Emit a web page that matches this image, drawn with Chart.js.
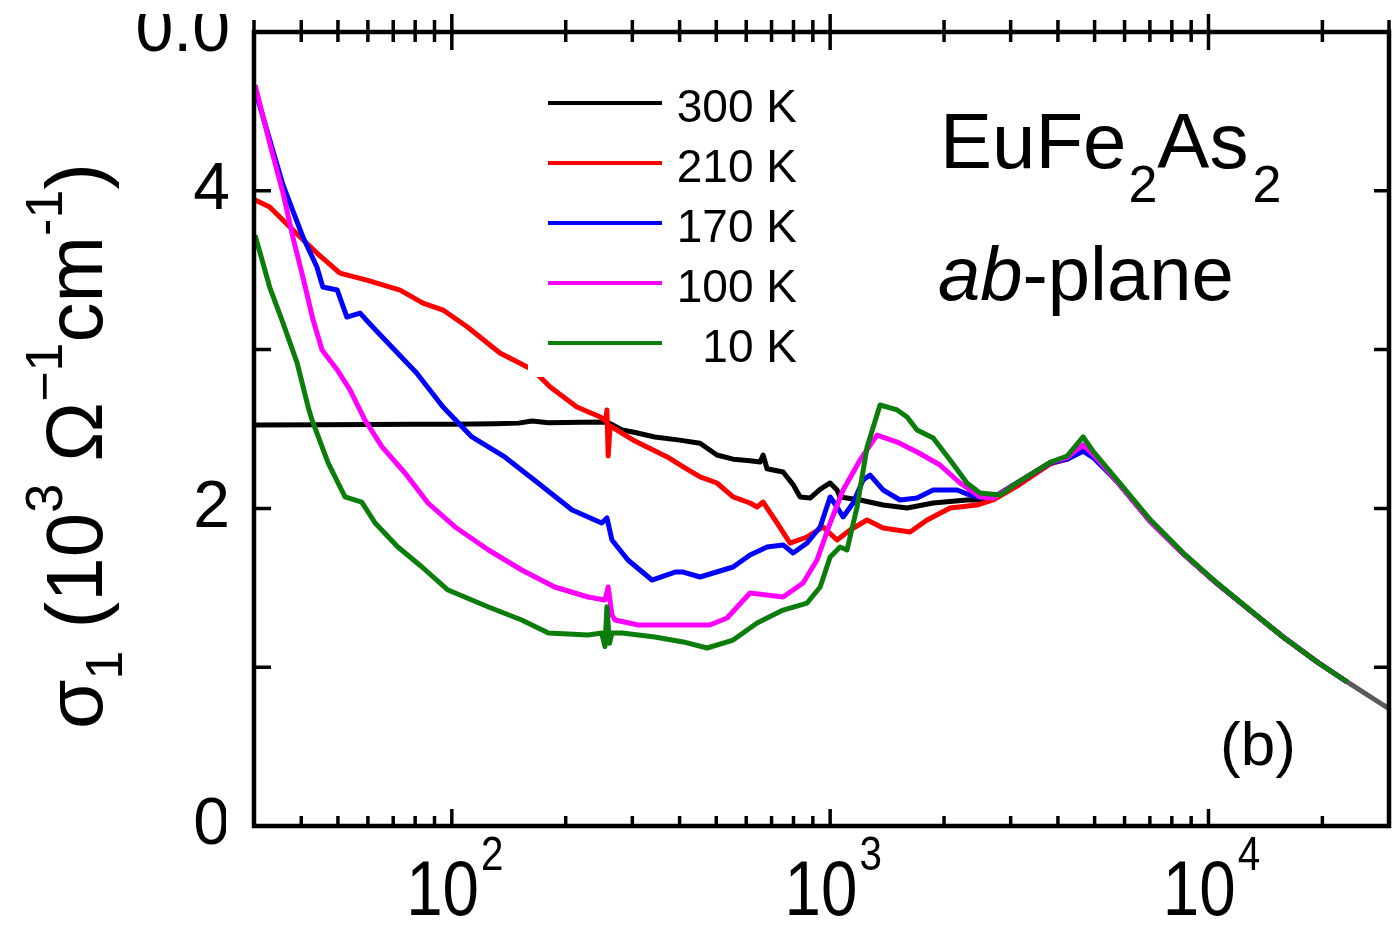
<!DOCTYPE html>
<html><head><meta charset="utf-8">
<script src="https://cdn.jsdelivr.net/npm/chart.js@4.4.1/dist/chart.umd.min.js"></script>
<style>html,body{margin:0;padding:0;background:#fff;} #wrap{width:1392px;height:929px;}</style>
</head><body><div id="wrap"><canvas id="c" width="1392" height="929"></canvas></div>
<script>
const FONT = '"Liberation Sans", Arial, Helvetica, sans-serif';

// ---- data (wavenumber in cm^-1, sigma_1 in 10^3 Ohm^-1 cm^-1) ----
const seriesLabels = ['300 K', '210 K', '170 K', '100 K', '10 K'];
const seriesColors = ['#000000', '#ff0000', '#0000ff', '#ff00ff', '#0a7d0a'];

const wn300 = [30.2, 45, 60, 80, 100, 130, 150, 163, 180, 220, 257, 282, 301, 344, 400, 453, 502, 554, 614, 653, 665, 681, 707, 751, 798, 833, 885, 940, 1000, 1043, 1062, 1200, 1380, 1597, 1872, 2299, 2537, 2763, 3119, 3815, 4229, 4663, 4955, 5733, 7010, 8570, 10540, 12880, 15750, 19380, 23260, 28950, 30030];
const s300 = [2.525, 2.526, 2.528, 2.53, 2.53, 2.533, 2.537, 2.55, 2.54, 2.542, 2.544, 2.494, 2.481, 2.45, 2.43, 2.41, 2.336, 2.31, 2.30, 2.292, 2.336, 2.25, 2.242, 2.229, 2.15, 2.072, 2.065, 2.12, 2.16, 2.116, 2.072, 2.053, 2.021, 2.003, 2.034, 2.053, 2.053, 2.084, 2.16, 2.286, 2.31, 2.38, 2.33, 2.17, 1.92, 1.715, 1.527, 1.358, 1.19, 1.033, 0.907, 0.762, 0.74];

const wn210 = [30.2, 33, 38, 44, 50.6, 59.6, 73, 83.9, 94.8, 110, 134, 164, 182, 214, 247, 255, 257, 259, 262, 301, 371, 409, 453, 502, 554, 614, 641, 665, 724, 783, 869, 958, 1043, 1129, 1252, 1380, 1626, 1804, 2075, 2445, 2695, 3119, 3815, 4229, 4663, 4955, 5733, 7010, 8570, 10540, 12880, 15750, 19380, 23260];
const s210 = [3.942, 3.898, 3.753, 3.608, 3.482, 3.438, 3.375, 3.293, 3.249, 3.142, 2.979, 2.872, 2.764, 2.639, 2.576, 2.55, 2.62, 2.33, 2.52, 2.431, 2.324, 2.261, 2.198, 2.16, 2.072, 2.034, 2.009, 2.04, 1.908, 1.782, 1.82, 1.883, 1.801, 1.864, 1.927, 1.877, 1.851, 1.927, 2.003, 2.021, 2.053, 2.14, 2.28, 2.31, 2.39, 2.335, 2.17, 1.92, 1.715, 1.527, 1.358, 1.19, 1.033, 0.907];

const wn170 = [30.2, 35.8, 40.4, 44, 45.6, 49.8, 52.8, 57.2, 61.8, 69.4, 80.7, 94.8, 113, 138, 169, 208, 249, 257, 265, 292, 338, 389, 409, 453, 554, 614, 681, 751, 798, 869, 941, 1000, 1043, 1082, 1150, 1222, 1275, 1380, 1530, 1697, 1872, 2165, 2343, 2537, 2763, 3119, 3815, 4229, 4663, 4955, 5733, 7010, 8570, 10540, 12880, 15750, 19380, 23260];
const s170 = [4.635, 4.036, 3.709, 3.52, 3.394, 3.375, 3.205, 3.23, 3.142, 3.016, 2.853, 2.639, 2.45, 2.324, 2.16, 1.99, 1.908, 1.94, 1.801, 1.675, 1.549, 1.599, 1.599, 1.568, 1.631, 1.707, 1.757, 1.77, 1.719, 1.782, 1.883, 2.072, 2.009, 1.946, 2.034, 2.179, 2.21, 2.116, 2.053, 2.065, 2.116, 2.116, 2.084, 2.065, 2.084, 2.16, 2.286, 2.31, 2.36, 2.32, 2.17, 1.92, 1.715, 1.527, 1.358, 1.19, 1.033, 0.907];

const wn100 = [30.2, 33, 35.8, 38, 40.4, 43, 45.4, 49.8, 53.8, 58.9, 65.4, 75.2, 86.5, 102, 125, 153, 187, 229, 254, 259, 265, 270, 311, 421, 481, 534, 614, 751, 848, 923, 1000, 1082, 1200, 1330, 1503, 1697, 1952, 2205, 2490, 2695, 3119, 3815, 4229, 4663, 4955, 5733, 7010, 8570, 10540, 12880, 15750, 19380, 23260];
const s100 = [4.666, 4.301, 3.986, 3.709, 3.457, 3.186, 2.997, 2.872, 2.746, 2.557, 2.387, 2.223, 2.034, 1.883, 1.738, 1.612, 1.505, 1.442, 1.423, 1.505, 1.329, 1.297, 1.266, 1.266, 1.266, 1.31, 1.467, 1.442, 1.53, 1.675, 1.908, 2.116, 2.305, 2.462, 2.418, 2.355, 2.273, 2.16, 2.072, 2.065, 2.16, 2.29, 2.32, 2.40, 2.34, 2.17, 1.92, 1.715, 1.527, 1.358, 1.19, 1.033, 0.907];

const wn10 = [30.2, 33, 35.8, 39, 41.7, 42.7, 47.1, 52.2, 57.8, 62.7, 72, 83.4, 97.7, 125, 153, 180, 229, 249, 254, 257, 261, 265, 282, 344, 409, 473, 554, 641, 751, 869, 941, 1000, 1062, 1108, 1178, 1252, 1355, 1503, 1597, 1697, 1872, 2075, 2299, 2490, 2813, 3119, 3815, 4229, 4663, 4955, 5733, 7010, 8570, 10540, 12880, 15750, 19380, 23260];
const s10 = [3.72, 3.394, 3.167, 2.916, 2.639, 2.557, 2.286, 2.072, 2.04, 1.908, 1.757, 1.631, 1.486, 1.379, 1.297, 1.215, 1.203, 1.215, 1.13, 1.38, 1.15, 1.215, 1.215, 1.19, 1.159, 1.121, 1.171, 1.278, 1.36, 1.404, 1.505, 1.694, 1.757, 1.738, 2.009, 2.387, 2.651, 2.62, 2.576, 2.494, 2.443, 2.305, 2.16, 2.097, 2.084, 2.16, 2.29, 2.33, 2.45, 2.36, 2.18, 1.93, 1.72, 1.53, 1.36, 1.19, 1.033, 0.907];

// ---- axes ----
const xMin = 30, xMax = 30000;
const yMin = 0, yMax = 5;
const xMajorTicks = [100, 1000, 10000];
const xTickExponents = ['2', '3', '4'];
const yTickLabels = { 0: '0', 2: '2', 4: '4', 5: '0.0' };
const titleMain = 'EuFe', titleMain2 = 'As', titleSub = '2';
const planeItalic = 'ab', planeRest = '-plane';
const panelLabel = '(b)';

function pts(xs, ys) { return xs.map((x, i) => ({ x: x, y: ys[i] })); }
const allX = [wn300, wn210, wn170, wn100, wn10];
const allY = [s300, s210, s170, s100, s10];
const drawOrder = [4, 3, 2, 1, 0];

const datasets = seriesLabels.map((lab, i) => ({
  label: lab,
  data: pts(allX[i], allY[i]),
  borderColor: seriesColors[i],
  borderWidth: 5,
  pointRadius: 0,
  showLine: true,
  tension: 0,
  borderJoinStyle: 'round',
  order: drawOrder[i],
  segment: i === 0 ? { borderColor: c => (c.p0.parsed.x >= 23000 ? '#5a5a5a' : undefined) } : undefined
}));

function drawYTitle(ctx) {
  const big = 80, small = 52;
  const parts = [
    { t: '\u03C3', s: big, dy: 0 },
    { t: '1', s: small, dy: 20 },
    { t: ' (10', s: big, dy: 0 },
    { t: '3', s: small, dy: -40 },
    { t: ' \u03A9', s: big, dy: 0 },
    { t: '\u22121', s: small, dy: -40 },
    { t: 'cm', s: big, dy: 0 },
    { t: '-1', s: small, dy: -40 },
    { t: ')', s: big, dy: 0 }
  ];
  let total = 0;
  parts.forEach(p => { ctx.font = p.s + 'px ' + FONT; p.w = ctx.measureText(p.t).width; total += p.w; });
  ctx.save();
  ctx.translate(102, 446);
  ctx.rotate(-Math.PI / 2);
  ctx.fillStyle = '#000';
  ctx.textAlign = 'left';
  ctx.textBaseline = 'alphabetic';
  let x = -total / 2;
  parts.forEach(p => { ctx.font = p.s + 'px ' + FONT; ctx.fillText(p.t, x, p.dy); x += p.w; });
  ctx.restore();
}

const decor = {
  id: 'decor',
  beforeDraw(chart) {
    const ctx = chart.ctx;
    ctx.save(); ctx.fillStyle = '#fff'; ctx.fillRect(0, 0, chart.width, chart.height); ctx.restore();
  },
  afterDatasetsDraw(chart) {
    const ctx = chart.ctx, a = chart.chartArea;
    const xs = chart.scales.x, ys = chart.scales.y;
    ctx.save();
    // legend box
    ctx.fillStyle = '#fff';
    ctx.fillRect(528, 78, 284, 299);
    ctx.lineCap = 'butt';
    seriesLabels.forEach((lab, i) => {
      const y = 103 + 60 * i;
      ctx.strokeStyle = seriesColors[i];
      ctx.lineWidth = 4.2;
      ctx.beginPath(); ctx.moveTo(548, y); ctx.lineTo(662, y); ctx.stroke();
      ctx.fillStyle = '#000';
      ctx.font = '46px ' + FONT;
      ctx.textAlign = 'right';
      ctx.textBaseline = 'alphabetic';
      ctx.fillText(lab, 797, y + 19);
    });
    // frame
    ctx.strokeStyle = '#000';
    ctx.lineWidth = 4.5;
    ctx.strokeRect(a.left, a.top, a.right - a.left, a.bottom - a.top);
    // y ticks (inward, both sides)
    ctx.lineWidth = 3.5;
    for (let v = yMin; v <= yMax; v++) {
      const y = ys.getPixelForValue(v);
      ctx.beginPath();
      ctx.moveTo(a.left, y); ctx.lineTo(a.left + 17, y);
      ctx.moveTo(a.right, y); ctx.lineTo(a.right - 15, y);
      ctx.stroke();
    }
    // x ticks
    for (let dec = 10; dec <= 10000; dec *= 10) {
      for (let m = 1; m <= 9; m++) {
        const v = dec * m;
        if (v < xMin || v > xMax) continue;
        const x = xs.getPixelForValue(v);
        const major = m === 1;
        const lb = major ? 17 : 10;
        const lt = major ? 20 : 12;
        ctx.beginPath();
        ctx.moveTo(x, a.bottom); ctx.lineTo(x, a.bottom - lb);
        ctx.moveTo(x, a.top - lt); ctx.lineTo(x, a.top + lt - 2);
        ctx.stroke();
      }
    }
    // annotations
    ctx.fillStyle = '#000';
    ctx.textAlign = 'left';
    ctx.textBaseline = 'alphabetic';
    let x = 940;
    ctx.font = '78px ' + FONT; ctx.fillText(titleMain, x, 168); x += ctx.measureText(titleMain).width + 2;
    ctx.font = '52px ' + FONT; ctx.fillText(titleSub, x, 202); x += ctx.measureText(titleSub).width;
    ctx.font = '78px ' + FONT; ctx.fillText(titleMain2, x, 168); x += ctx.measureText(titleMain2).width + 4;
    ctx.font = '52px ' + FONT; ctx.fillText(titleSub, x, 202);
    x = 938;
    ctx.font = 'italic 76px ' + FONT; ctx.fillText(planeItalic, x, 300); x += ctx.measureText(planeItalic).width;
    ctx.font = '76px ' + FONT; ctx.fillText(planeRest, x, 300);
    ctx.font = '62px ' + FONT; ctx.fillText(panelLabel, 1220, 765);
    ctx.restore();
  },
  afterDraw(chart) {
    const ctx = chart.ctx;
    const xs = chart.scales.x;
    ctx.save();
    ctx.fillStyle = '#000';
    ctx.textAlign = 'left';
    ctx.textBaseline = 'alphabetic';
    const sx = 0.84;
    xMajorTicks.forEach((v, i) => {
      const cx = xs.getPixelForValue(v) + 3;
      ctx.font = '78px ' + FONT;
      const w10 = ctx.measureText('10').width * sx;
      ctx.font = '48px ' + FONT;
      const we = ctx.measureText(xTickExponents[i]).width * sx;
      const start = cx - (w10 + 2 + we) / 2;
      ctx.save();
      ctx.translate(start, 915);
      ctx.scale(sx, 1);
      ctx.font = '78px ' + FONT; ctx.fillText('10', 0, 0);
      ctx.font = '48px ' + FONT; ctx.fillText(xTickExponents[i], (w10 + 2) / sx, -45);
      ctx.restore();
    });
    drawYTitle(ctx);
    // white masks seen in the original scan
    ctx.fillStyle = '#fff';
    ctx.fillRect(0, 0, chart.width, 14);
    ctx.fillRect(226, 800, 25, 70);
    ctx.restore();
  }
};

new Chart(document.getElementById('c').getContext('2d'), {
  type: 'scatter',
  data: { datasets: datasets },
  options: {
    responsive: false,
    animation: false,
    devicePixelRatio: 1,
    layout: { padding: { top: 32, right: 3, left: 0, bottom: 0 } },
    plugins: { legend: { display: false }, tooltip: { enabled: false } },
    scales: {
      x: {
        type: 'logarithmic', min: xMin, max: xMax,
        grid: { display: false }, border: { display: false },
        ticks: { display: false },
        afterFit(s) { s.height = 103; s.paddingLeft = 0; s.paddingRight = 0; }
      },
      y: {
        min: yMin, max: yMax,
        grid: { display: false, drawTicks: false }, border: { display: false },
        ticks: {
          stepSize: 1, autoSkip: false, padding: 24, color: '#000',
          font: c => ({ family: FONT, size: (c.tick && c.tick.value === 5) ? 68 : 66 }),
          callback: v => (yTickLabels[v] !== undefined ? yTickLabels[v] : '')
        },
        afterFit(s) { s.width = 254; s.paddingTop = 0; s.paddingBottom = 0; }
      }
    }
  },
  plugins: [decor]
});
</script>
</body></html>
